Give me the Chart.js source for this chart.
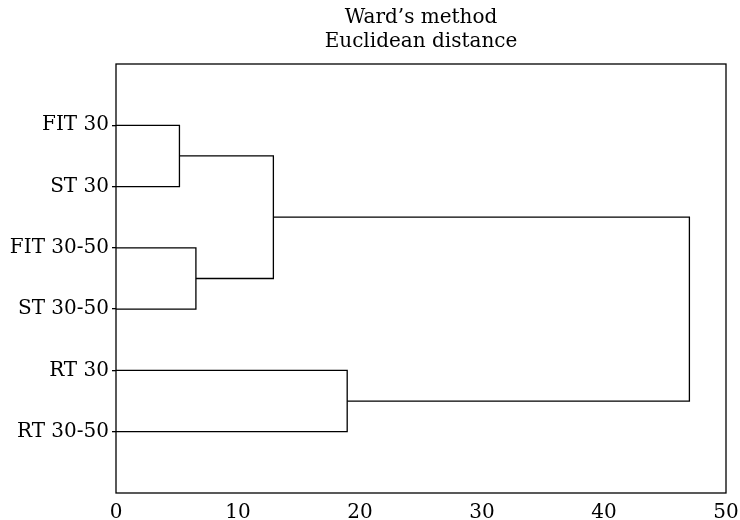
<!DOCTYPE html>
<html lang="en">
<head>
  <meta charset="UTF-8">
  <title>Ward's method dendrogram</title>
  <script src="https://cdn.jsdelivr.net/npm/chart.js"></script>
  <style>
    body { margin: 0; background: #fff; }
    canvas { display: block; }
  </style>
</head>
<body>
  <canvas id="chart" width="740" height="520"></canvas>

  <script>
    // leaves, top to bottom
    const leaves = ['FIT 30', 'ST 30', 'FIT 30-50', 'ST 30-50', 'RT 30', 'RT 30-50'];
    // merges: cluster ids 0-5 are leaves, 6+ are merges in this order
    const mergeLeft = [0, 2, 6, 4, 8];
    const mergeRight = [1, 3, 7, 5, 9];
    const mergeHeight = [5.2, 6.55, 12.9, 18.95, 47.0];
    const xTicks = [0, 10, 20, 30, 40, 50];

    const FONT = "'DejaVu Serif', 'Liberation Serif', serif";

    // y position and height of every cluster
    const posY = leaves.map((_, i) => i + 1);
    const posX = leaves.map(() => 0);
    const links = [];
    mergeHeight.forEach((h, k) => {
      const a = mergeLeft[k], b = mergeRight[k];
      links.push({
        data: [
          { x: posX[a], y: posY[a] },
          { x: h, y: posY[a] },
          { x: h, y: posY[b] },
          { x: posX[b], y: posY[b] }
        ],
        showLine: true,
        borderColor: '#000',
        borderWidth: 1.3,
        pointRadius: 0,
        fill: false
      });
      posY.push((posY[a] + posY[b]) / 2);
      posX.push(h);
    });

    const frame = {
      id: 'frame',
      afterDraw(chart) {
        const { ctx, chartArea: a } = chart;
        ctx.save();
        ctx.strokeStyle = '#000';
        ctx.lineWidth = 1.3;
        ctx.strokeRect(a.left, a.top, a.right - a.left, a.bottom - a.top);
        ctx.restore();
      }
    };

    new Chart(document.getElementById('chart').getContext('2d'), {
      type: 'scatter',
      data: { datasets: links },
      options: {
        responsive: false,
        animation: false,
        layout: { padding: { right: 14, bottom: 0 } },
        scales: {
          x: {
            type: 'linear',
            min: 0,
            max: 50,
            afterBuildTicks: axis => { axis.ticks = xTicks.map(v => ({ value: v })); },
            afterFit: axis => { axis.height = 27; axis.paddingLeft = 0; axis.paddingRight = 0; },
            grid: { display: false, drawTicks: false },
            border: { display: false },
            ticks: { color: '#000', padding: 8, maxRotation: 0, font: { family: FONT, size: 20 } }
          },
          y: {
            type: 'linear',
            min: 0,
            max: leaves.length + 1,
            reverse: true,
            afterBuildTicks: axis => { axis.ticks = leaves.map((_, i) => ({ value: i + 1 })); },
            afterFit: axis => { axis.width = 116; axis.paddingTop = 0; axis.paddingBottom = 0; },
            grid: { drawOnChartArea: false, tickLength: 4, color: '#000', lineWidth: 1.3 },
            border: { display: false },
            ticks: {
              color: '#000',
              padding: 3,
              font: { family: FONT, size: 20 },
              callback: v => leaves[v - 1] || ''
            }
          }
        },
        plugins: {
          legend: { display: false },
          tooltip: { enabled: false },
          title: {
            display: true,
            fullSize: false,
            text: ['Ward\u2019s method', 'Euclidean distance'],
            color: '#000',
            font: { family: FONT, size: 20, weight: 'normal', lineHeight: 1.2 },
            padding: { top: 6, bottom: 10 }
          }
        }
      },
      plugins: [frame]
    });
  </script>
</body>
</html>
